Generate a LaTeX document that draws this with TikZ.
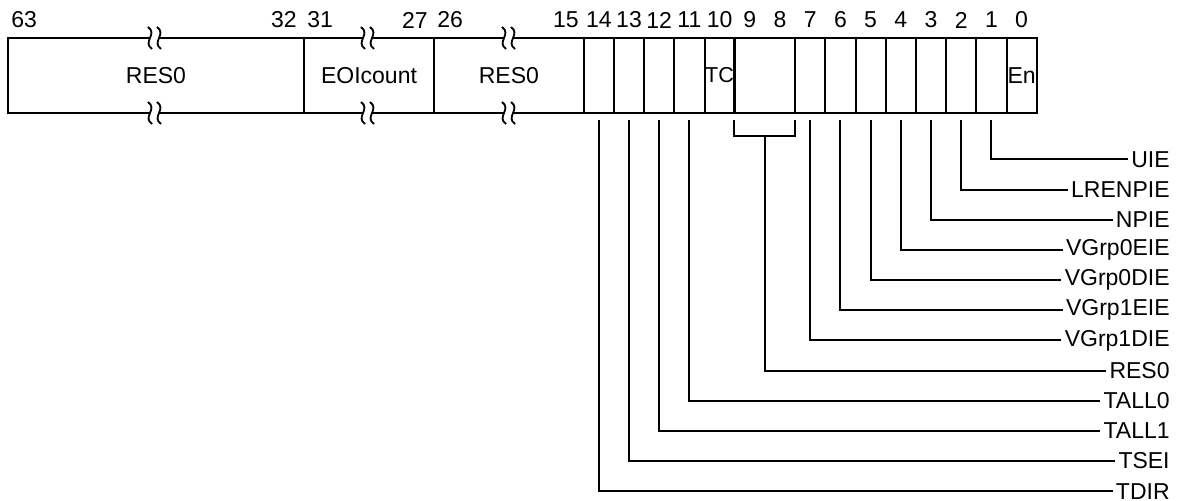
\documentclass[tikz,border=0pt]{standalone}
\usepackage{fontspec}
\setmainfont{Liberation Sans}
\usetikzlibrary{positioning,calc}

\tikzset{
  cell/.style={draw, line width=1pt, minimum height=37.5pt, inner sep=0pt, outer sep=0pt},
  bitnum/.style={inner sep=0pt},
  wire/.style={line width=1pt},
  fieldname/.style={inner sep=1.5pt, anchor=east},
  brk/.style={line width=0.9pt}
}

\begin{document}
\begin{tikzpicture}[x=0.5pt,y=-0.5pt,font=\fontsize{11.5}{13}\selectfont]
  \useasboundingbox (0,0) rectangle (1186,501);
  \node[cell, minimum width=148pt] (res0hi) at (156,75.5) {RES0};
  \node[cell, minimum width=65pt] (eoi) at (369,75.5) {EOIcount};
  \node[cell, minimum width=74.85pt] (res0lo) at (508.85,75.5) {RES0};
  \foreach \b/\t in {14/,13/,12/,11/,10/{\fontsize{10.8}{13}\selectfont TC},7/,6/,5/,4/,3/,2/,1/,0/En}
    \node[cell, minimum width=15.1pt] (b\b) at ({1036.7-(\b+0.5)*30.2},75.5) {\t};
  \node[cell, minimum width=30.2pt] (b98) at (764.5,75.5) {};
  \foreach \x in {150,363,504}
    \foreach \y in {38,113} {
      \fill[white] (\x,\y-2) rectangle (\x+9,\y+2);
      \draw[brk] (\x-2,\y-11) .. controls (\x+8,\y-4) and (\x-8,\y+4) .. (\x+2,\y+11);
      \draw[brk] (\x+7,\y-11) .. controls (\x+17,\y-4) and (\x+1,\y+4) .. (\x+11,\y+11);
    }
  \node[bitnum, anchor=west] (n63) at (11,20) {63};
  \node[bitnum, anchor=east] (n32) at (297,20) {32};
  \node[bitnum, anchor=west] (n31) at (307,20) {31};
  \node[bitnum, anchor=east] (n27) at (428,20) {27};
  \node[bitnum, anchor=west] (n26) at (437,20) {26};
  \node[bitnum, anchor=east] (n15) at (579,20) {15};
  \foreach \b in {14,...,0}
    \node[bitnum] (n\b) at ({1036.7-(\b+0.5)*30.2},20) {\b};
  \foreach \k/\b/\t in {0/1/UIE,1/2/LRENPIE,2/3/NPIE,3/4/VGrp0EIE,4/5/VGrp0DIE,5/6/VGrp1EIE,6/7/VGrp1DIE,7/98/RES0,8/11/TALL0,9/12/TALL1,10/13/TSEI,11/14/TDIR}
    \node[fieldname] (l\b) at (1173,{159.5+30.15*\k}) {\t};
  \foreach \b in {1,2,3,4,5,6,7,11,12,13,14}
    \draw[wire] ([yshift=-3.5pt]b\b.south) |- (l\b.west);
  \draw[wire] ([yshift=-3.5pt]b98.south west) -- ++(0,16) -| ([yshift=-3.5pt]b98.south east);
  \draw[wire] ([yshift=-11.5pt]b98.south) |- (l98.west);
\end{tikzpicture}
\end{document}
